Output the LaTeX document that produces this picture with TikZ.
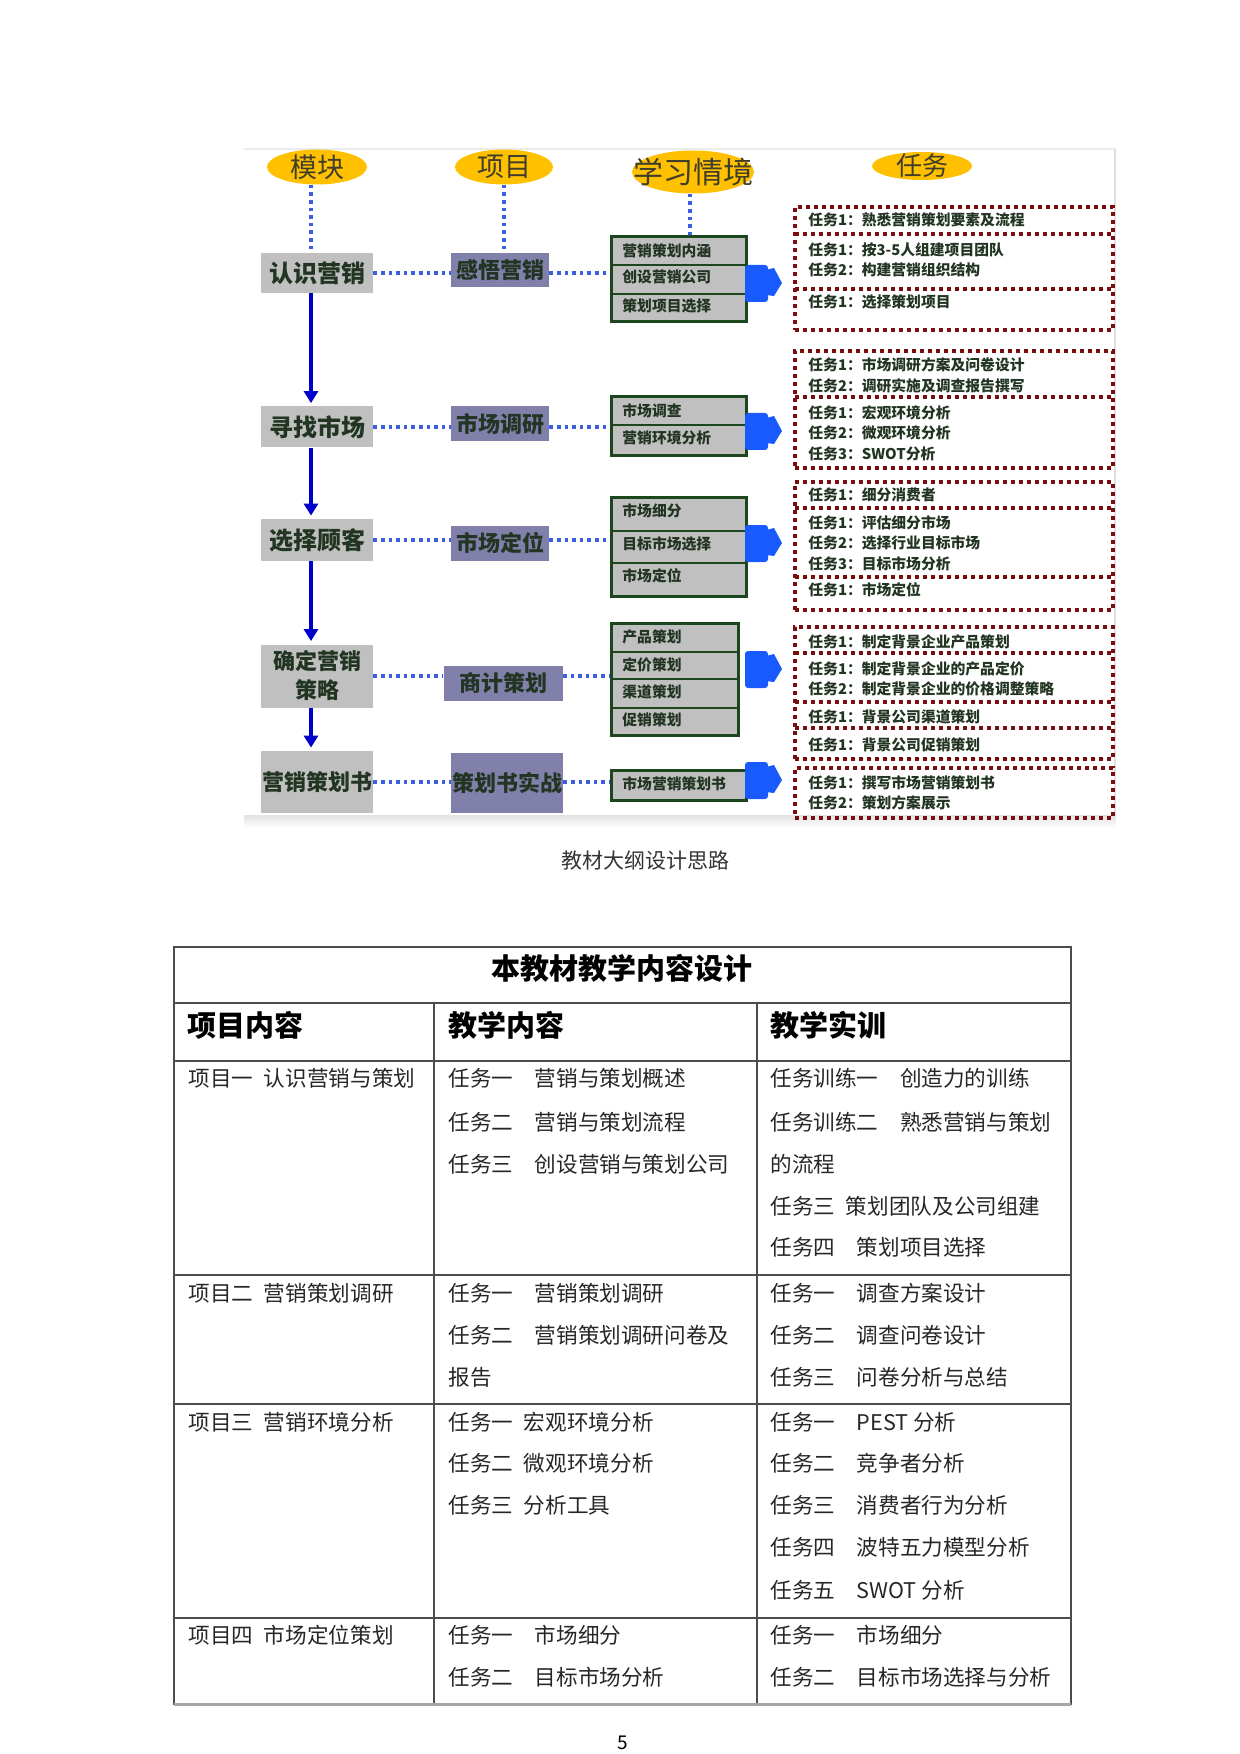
\documentclass[tikz,border=0pt]{standalone}
\usepackage{fontspec}
\setmainfont{Noto Sans CJK SC}
\usetikzlibrary{shapes.geometric,arrows.meta}

\definecolor{gold}{RGB}{255,192,0}
\definecolor{modgray}{RGB}{192,192,192}
\definecolor{projpurple}{RGB}{128,128,170}
\definecolor{txtgreen}{RGB}{34,52,34}
\definecolor{headtxt}{RGB}{62,62,42}
\definecolor{stackgreen}{RGB}{28,70,30}
\definecolor{taskred}{RGB}{122,14,14}
\definecolor{dotblue}{RGB}{60,95,225}
\definecolor{arrowblue}{RGB}{0,0,205}
\definecolor{blobblue}{RGB}{25,90,255}

\tikzset{
  headell/.style={ellipse, fill=gold, inner sep=0pt},
  headlab/.style={inner sep=0pt, text=headtxt, font=\fontsize{13.5}{15}\selectfont},
  modbox/.style={fill=modgray, text=txtgreen, inner sep=0pt, align=center, font=\bfseries\fontsize{12}{14.5}\selectfont},
  projbox/.style={fill=projpurple, text=txtgreen, inner sep=0pt, font=\bfseries\fontsize{11}{13}\selectfont},
  stackbox/.style={draw=stackgreen, line width=1.5pt, fill=modgray, inner sep=0pt},
  stackline/.style={draw=stackgreen, line width=1.2pt},
  stacktxt/.style={anchor=west, inner sep=0pt, text=txtgreen, font=\bfseries\fontsize{7.4}{9}\selectfont},
  taskbox/.style={draw=taskred, line width=1.8pt, dash pattern=on 1.8pt off 2.2pt, inner sep=0pt},
  taskline/.style={draw=taskred, line width=1.8pt, dash pattern=on 1.8pt off 2.2pt},
  tasktxt/.style={anchor=west, inner sep=0pt, text=txtgreen, font=\bfseries\fontsize{7.4}{9}\selectfont},
  dotline/.style={draw=dotblue, line width=1.8pt, dash pattern=on 1.8pt off 2pt},
  flowarrow/.style={draw=arrowblue, line width=2pt, shorten >=1.5pt, -{Triangle[width=7pt,length=6pt]}},
  tabline/.style={draw=gray!60!black, line width=0.7pt},
  tabtitle/.style={inner sep=0pt, font=\bfseries\fontsize{14.5}{17}\selectfont},
  tabhead/.style={anchor=west, inner sep=0pt, font=\bfseries\fontsize{14.5}{17}\selectfont},
  tabtxt/.style={anchor=west, inner sep=0pt, text=black!85, font=\fontsize{10.8}{13}\selectfont},
}

\begin{document}
\begin{tikzpicture}[x=0.5pt,y=-0.5pt]
\useasboundingbox (0,0) rectangle (1240,1754);

% frame of the diagram
\draw[gray!15, line width=0.6pt] (244,149) -- (1115,149);
\draw[gray!25, line width=1pt] (1115,149) -- (1115,815);
\shade[top color=gray!22, bottom color=white] (244,815) rectangle (1116,828);

% column heads
\node[headell, minimum width=50pt, minimum height=17.5pt, label={[headlab]center:模块}] (hMod) at (317,167) {};
\node[headell, minimum width=49pt, minimum height=17.5pt, label={[headlab]center:项目}] (hProj) at (504,167) {};
\node[headell, minimum width=61pt, minimum height=21.5pt, label={[headlab, font=\fontsize{15}{17}\selectfont]center:学习情境}] (hSit) at (693,172) {};
\node[headell, minimum width=50pt, minimum height=14pt, label={[headlab, font=\fontsize{13}{15}\selectfont]center:任务}] (hTask) at (922,166) {};

% modules
\node[modbox, minimum width=56pt, minimum height=20pt] (m1) at (317,273) {认识营销};
\node[modbox, minimum width=56pt, minimum height=20.5pt] (m2) at (317,427) {寻找市场};
\node[modbox, minimum width=56pt, minimum height=21pt] (m3) at (317,540) {选择顾客};
\node[modbox, minimum width=56pt, minimum height=31.5pt, font=\bfseries\fontsize{11}{14.5}\selectfont] (m4) at (317,676) {确定营销\\策略};
\node[modbox, minimum width=56pt, minimum height=31pt, font=\bfseries\fontsize{11}{13}\selectfont] (m5) at (317,782) {营销策划书};

% projects
\node[projbox, minimum width=49pt, minimum height=17pt] (p1) at (500,270) {感悟营销};
\node[projbox, minimum width=49pt, minimum height=17.5pt] (p2) at (500,424) {市场调研};
\node[projbox, minimum width=49pt, minimum height=17.5pt] (p3) at (500,543) {市场定位};
\node[projbox, minimum width=59.5pt, minimum height=17.5pt] (p4) at (503,683) {商计策划};
\node[projbox, minimum width=56pt, minimum height=30pt] (p5) at (507,783) {策划书实战};

% learning situations
\node[stackbox, minimum width=67.5pt, minimum height=42.5pt] (s1) at (678.5,279.5) {};
\node[stackbox, minimum width=67.5pt, minimum height=29.5pt] (s2) at (678.5,426.5) {};
\node[stackbox, minimum width=67.5pt, minimum height=49.5pt] (s3) at (678.5,546.5) {};
\node[stackbox, minimum width=63.5pt, minimum height=56pt] (s4) at (674.5,679) {};
\node[stackbox, minimum width=67.5pt, minimum height=15pt] (s5) at (678.5,785) {};
\foreach \xa/\xb/\y in {611/746/265,611/746/294,611/746/425,611/746/531,611/746/563,611/738/652,611/738/679,611/738/708}
  \draw[stackline] (\xa,\y) -- (\xb,\y);
\foreach \n/\y/\t in {1/251/营销策划内涵,2/277/创设营销公司,3/306/策划项目选择,4/411/市场调查,5/438/营销环境分析,
  6/511/市场细分,7/544/目标市场选择,8/576/市场定位,9/637/产品策划,10/665/定价策划,11/692/渠道策划,12/720/促销策划,13/784/市场营销策划书}
  \node[stacktxt] (st\n) at (622,\y) {\t};

% tasks
\node[taskbox, minimum width=159pt, minimum height=61.5pt] (r1) at (954,268.5) {};
\node[taskbox, minimum width=159pt, minimum height=58.5pt] (r2) at (954,409.5) {};
\node[taskbox, minimum width=159pt, minimum height=64pt] (r3) at (954,546) {};
\node[taskbox, minimum width=159pt, minimum height=66pt] (r4) at (954,693) {};
\node[taskbox, minimum width=159pt, minimum height=25pt] (r5) at (954,793) {};
\foreach \y in {234,289,397,508,577,653,702,728}
  \draw[taskline] (795,\y) -- (1113,\y);
\foreach \n/\y/\t in {1/220/任务1：熟悉营销策划要素及流程,2/250/任务1：按3-5人组建项目团队,3/270/任务2：构建营销组织结构,4/302/任务1：选择策划项目,
  5/365/任务1：市场调研方案及问卷设计,6/386/任务2：调研实施及调查报告撰写,7/413/任务1：宏观环境分析,8/433/任务2：微观环境分析,9/454/任务3：SWOT分析,
  10/495/任务1：细分消费者,11/523/任务1：评估细分市场,12/543/任务2：选择行业目标市场,13/564/任务3：目标市场分析,14/590/任务1：市场定位,
  15/642/任务1：制定背景企业产品策划,16/669/任务1：制定背景企业的产品定价,17/689/任务2：制定背景企业的价格调整策略,18/717/任务1：背景公司渠道策划,19/745/任务1：背景公司促销策划,
  20/783/任务1：撰写市场营销策划书,21/803/任务2：策划方案展示}
  \node[tasktxt] (t\n) at (808,\y) {\t};

% blue pointers
\foreach \y in {283,431,543,669,780} {
  \fill[blobblue, rounded corners=1.5pt] (745,\y-18) rectangle (768,\y+19);
  \fill[blobblue] (766,\y-13) -- (774,\y-15) -- (782,\y) -- (774,\y+13) -- (766,\y+12) -- cycle;
}

% connectors
\draw[dotline] ([xshift=-3pt]hMod.south) -- ([xshift=-3pt]m1.north);
\draw[dotline] (hProj.south) -- (hProj.south |- p1.north);
\draw[dotline] ([xshift=-1.5pt]hSit.south) -- ([xshift=-1.5pt]hSit.south |- s1.north);
\foreach \i in {1,...,5}
  \draw[dotline] (m\i.east) -- (m\i.east -| p\i.west) (p\i.east |- m\i.east) -- (m\i.east -| s\i.west);
\foreach \a/\b in {m1/m2,m2/m3,m3/m4,m4/m5}
  \draw[flowarrow] ([xshift=-3pt]\a.south) -- ([xshift=-3pt]\b.north);

\node[inner sep=0pt, text=black!80, font=\fontsize{10.5}{12}\selectfont] (cap) at (645,861) {教材大纲设计思路};

% table
\draw[tabline] (174,947) rectangle (1071,1704);
\foreach \y in {1003,1061,1275,1404,1618}
  \draw[tabline] (174,\y) -- (1071,\y);
\foreach \x in {434,757}
  \draw[tabline] (\x,1003) -- (\x,1704);
\draw[gray!70, line width=1.5pt] (174,1704) -- (1071,1704);
\node[tabtitle] (tt) at (622,968) {本教材教学内容设计};
\node[tabhead] (th1) at (187,1025) {项目内容};
\node[tabhead] (th2) at (448,1025) {教学内容};
\node[tabhead] (th3) at (770,1025) {教学实训};
\foreach \n/\x/\y/\t in {
  a1/188/1078/项目一\enspace 认识营销与策划,
  b1/448/1078/任务一　营销与策划概述, b2/448/1122/任务二　营销与策划流程, b3/448/1164/任务三　创设营销与策划公司,
  c1/770/1078/任务训练一　创造力的训练, c2/770/1122/任务训练二　熟悉营销与策划, c3/770/1164/的流程,
  c4/770/1206/任务三\enspace 策划团队及公司组建, c5/770/1247/任务四　策划项目选择,
  a2/188/1293/项目二\enspace 营销策划调研,
  b4/448/1293/任务一　营销策划调研, b5/448/1335/任务二　营销策划调研问卷及, b6/448/1377/报告,
  c6/770/1293/任务一　调查方案设计, c7/770/1335/任务二　调查问卷设计, c8/770/1377/任务三　问卷分析与总结,
  a3/188/1422/项目三\enspace 营销环境分析,
  b7/448/1422/任务一\enspace 宏观环境分析, b8/448/1463/任务二\enspace 微观环境分析, b9/448/1505/任务三\enspace 分析工具,
  c9/770/1422/任务一　PEST 分析, c10/770/1463/任务二　竞争者分析, c11/770/1505/任务三　消费者行为分析,
  c12/770/1547/任务四　波特五力模型分析, c13/770/1590/任务五　SWOT 分析,
  a4/188/1635/项目四\enspace 市场定位策划,
  b10/448/1635/任务一　市场细分, b11/448/1677/任务二　目标市场分析,
  c14/770/1635/任务一　市场细分, c15/770/1677/任务二　目标市场选择与分析}
  \node[tabtxt] (\n) at (\x,\y) {\t};

\node[inner sep=0pt, font=\fontsize{9.5}{11}\selectfont] (pg) at (623,1743) {5};
\end{tikzpicture}
\end{document}
